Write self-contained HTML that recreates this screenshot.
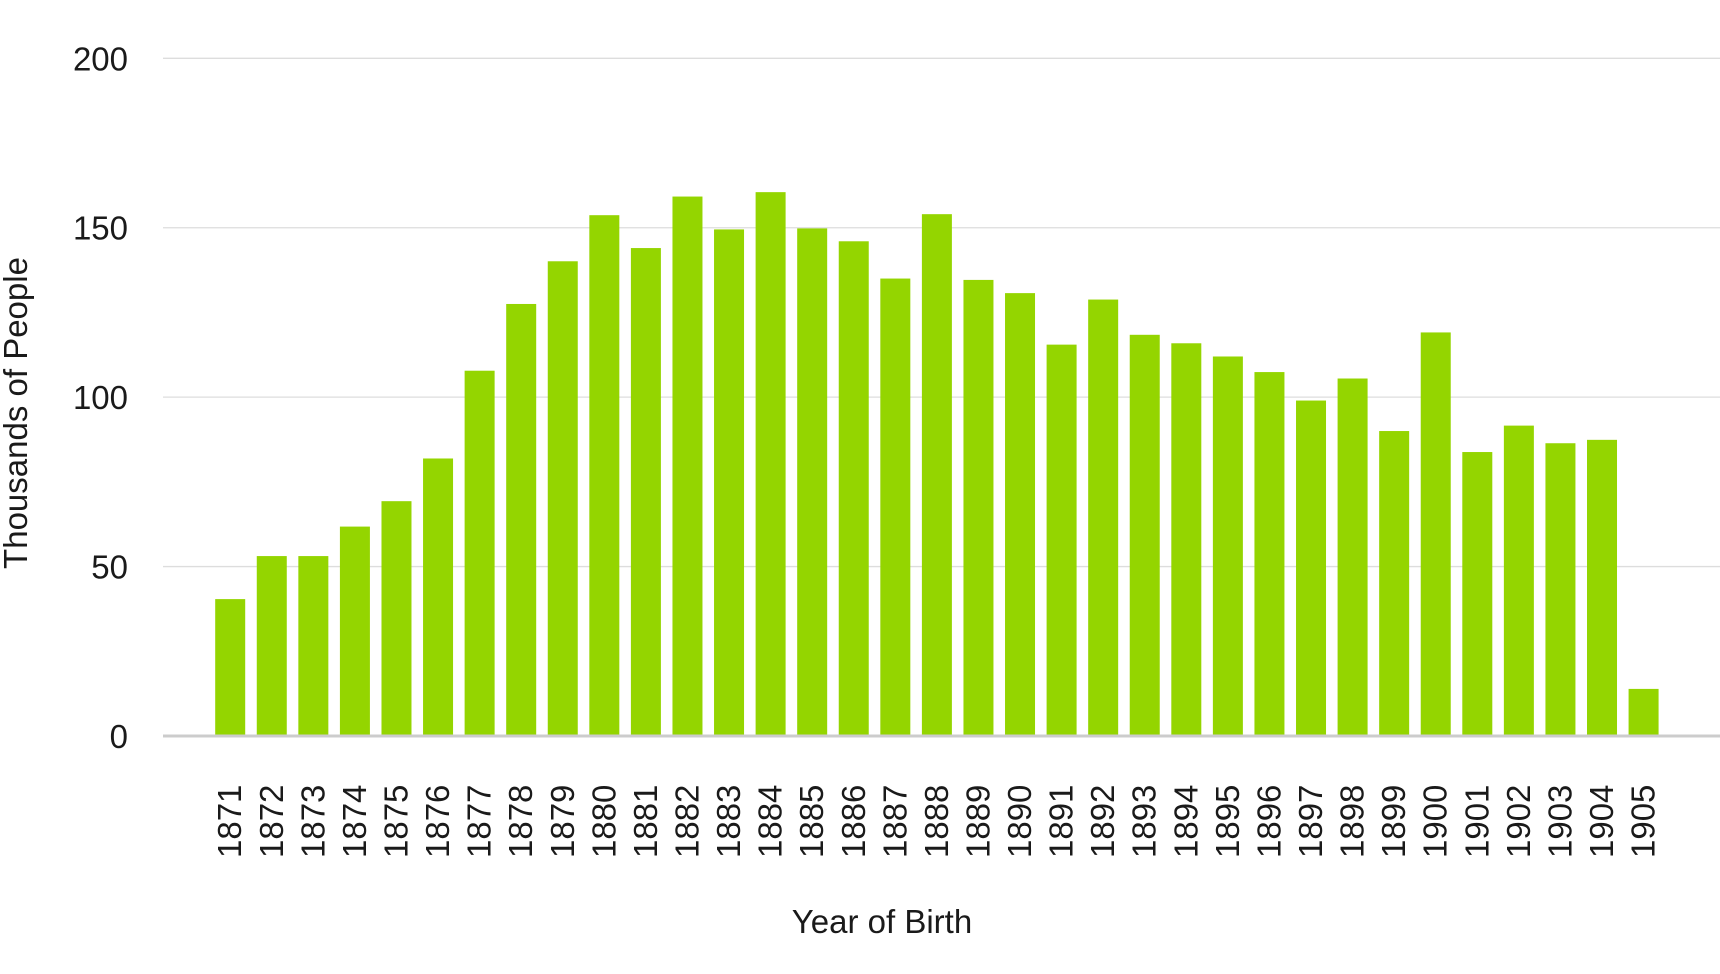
<!DOCTYPE html>
<html><head><meta charset="utf-8">
<style>
html,body{margin:0;padding:0;background:#fff;}
svg{display:block;font-family:"Liberation Sans",sans-serif;}
</style></head>
<body>
<svg id="chart" width="1720" height="974" viewBox="0 0 1720 974" xmlns="http://www.w3.org/2000/svg">
<g id="grid"></g>
<g id="yticks"></g>
<g id="bars"></g>
<line x1="163" x2="1720" y1="736" y2="736" stroke="#cccccc" stroke-width="3"/>
<g id="xticks"></g>
<text x="882" y="933" font-size="33" fill="#1a1a1a" text-anchor="middle">Year of Birth</text>
<text transform="translate(27,413) rotate(-90)" font-size="33" fill="#1a1a1a" text-anchor="middle">Thousands of People</text>
</svg>
<script>
const years = ["1871","1872","1873","1874","1875","1876","1877","1878","1879","1880","1881","1882","1883","1884","1885","1886","1887","1888","1889","1890","1891","1892","1893","1894","1895","1896","1897","1898","1899","1900","1901","1902","1903","1904","1905"];
const values = [40.4,53.1,53.1,61.8,69.3,81.9,107.8,127.5,140.1,153.7,144,159.2,149.5,160.5,149.8,146,135,154,134.6,130.7,115.5,128.8,118.4,115.9,112,107.4,99,105.5,90,119.1,83.8,91.6,86.4,87.4,13.9];
const yTicks = [0,50,100,150,200];

const NS = "http://www.w3.org/2000/svg";
const yMin = 0, yMax = 200, yBase = 736, yTop = 58.3;
function yScale(v){ return yBase - (v - yMin) / (yMax - yMin) * (yBase - yTop); }
const firstCenter = 230.2, pitch = 41.57, barW = 30;
function xScale(i){ return firstCenter + i * pitch; }

const grid = document.getElementById('grid');
const yt = document.getElementById('yticks');
yTicks.forEach(t => {
  const y = yScale(t);
  if (t !== 0) {
    const l = document.createElementNS(NS,'line');
    l.setAttribute('x1',163); l.setAttribute('x2',1720);
    l.setAttribute('y1',y); l.setAttribute('y2',y);
    l.setAttribute('stroke','#dddddd'); l.setAttribute('stroke-width','1.3');
    
    
    grid.appendChild(l);
  }
  const tx = document.createElementNS(NS,'text');
  tx.setAttribute('x',128); tx.setAttribute('y',y+12);
  tx.setAttribute('text-anchor','end'); tx.setAttribute('font-size','33'); tx.setAttribute('fill','#1a1a1a');
  tx.textContent = String(t);
  
  
  yt.appendChild(tx);
});

const bars = document.getElementById('bars');
const xt = document.getElementById('xticks');
years.forEach((yr,i) => {
  const cx = xScale(i);
  const top = yScale(values[i]);
  const r = document.createElementNS(NS,'rect');
  r.setAttribute('x', cx - barW/2); r.setAttribute('y', top);
  r.setAttribute('width', barW); r.setAttribute('height', yBase - top);
  r.setAttribute('fill', '#94d500');
  
  
  bars.appendChild(r);
  const tx = document.createElementNS(NS,'text');
  tx.setAttribute('transform','translate(' + (cx + 11) + ',858) rotate(-90)');
  tx.setAttribute('font-size','33'); tx.setAttribute('fill','#1a1a1a');
  tx.textContent = yr;
  
  
  xt.appendChild(tx);
});
</script>
</body></html>
